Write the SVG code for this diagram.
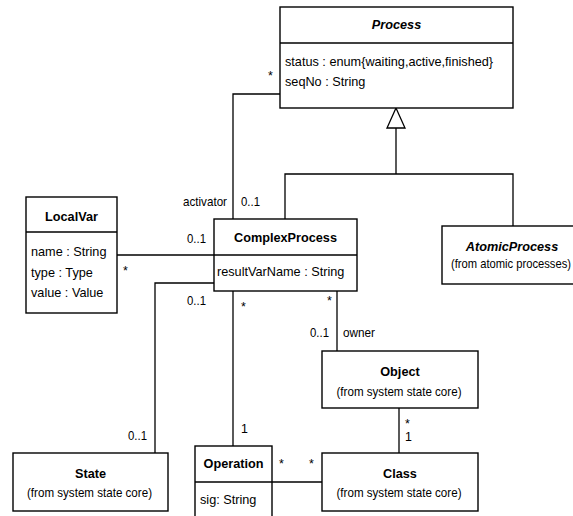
<svg xmlns="http://www.w3.org/2000/svg" width="573" height="516" viewBox="0 0 573 516">
<style>
.box{fill:#fff;stroke:#000;stroke-width:1.4}
.ln{fill:none;stroke:#000;stroke-width:1.3}
text{font-family:"Liberation Sans",Arial,sans-serif;font-size:12.7px;fill:#000}
.t{font-weight:bold;text-anchor:middle}
.i{font-style:italic}
.c{text-anchor:middle;font-size:12.4px}
.s{font-size:12.4px}
</style>
<rect width="573" height="516" fill="#fff"/>
<g id="connectors">
<polyline class="ln" points="280,94 233,94 233,219"/>
<line class="ln" x1="396" y1="128" x2="396" y2="174"/>
<polyline class="ln" points="285,219 285,174 513,174 513,226"/>
<polygon class="ln" points="396,108 387,128 405,128" fill="#fff"/>
<line class="ln" x1="117" y1="255" x2="214" y2="255"/>
<polyline class="ln" points="214,283 155,283 155,453"/>
<line class="ln" x1="233" y1="291" x2="233" y2="446"/>
<line class="ln" x1="337" y1="291" x2="337" y2="351"/>
<line class="ln" x1="399" y1="408" x2="399" y2="453"/>
<line class="ln" x1="272" y1="482" x2="322" y2="482"/>
<text class="s" x="268" y="80">*</text>
<text class="s" x="183" y="206" textLength="44" lengthAdjust="spacingAndGlyphs">activator</text>
<text class="s" x="241" y="206" textLength="19" lengthAdjust="spacingAndGlyphs">0..1</text>
<text class="s" x="187" y="243" textLength="19" lengthAdjust="spacingAndGlyphs">0..1</text>
<text class="s" x="123" y="275">*</text>
<text class="s" x="187" y="305" textLength="19" lengthAdjust="spacingAndGlyphs">0..1</text>
<text class="s" x="241" y="311">*</text>
<text class="s" x="327" y="305">*</text>
<text class="s" x="310" y="337" textLength="19" lengthAdjust="spacingAndGlyphs">0..1</text>
<text class="s" x="343" y="337" textLength="32" lengthAdjust="spacingAndGlyphs">owner</text>
<text class="s" x="128" y="440" textLength="19" lengthAdjust="spacingAndGlyphs">0..1</text>
<text class="s" x="241" y="433">1</text>
<text class="s" x="279" y="468">*</text>
<text class="s" x="309" y="468">*</text>
<text class="s" x="405" y="428">*</text>
<text class="s" x="405" y="441">1</text>
</g>
<g id="Process">
<rect class="box" x="280" y="7" width="233" height="101"/>
<line class="ln" x1="280" y1="43" x2="513" y2="43"/>
<text class="t i" x="396.5" y="29">Process</text>
<text x="285" y="66">status : enum{waiting,active,finished}</text>
<text x="285" y="86">seqNo : String</text>
</g>
<g id="LocalVar">
<rect class="box" x="26" y="197" width="91" height="116"/>
<line class="ln" x1="26" y1="232" x2="117" y2="232"/>
<text class="t" x="71.5" y="221">LocalVar</text>
<text x="31" y="256">name : String</text>
<text x="31" y="277">type : Type</text>
<text x="31" y="297">value : Value</text>
</g>
<g id="ComplexProcess">
<rect class="box" x="214" y="219" width="143" height="72"/>
<line class="ln" x1="214" y1="255" x2="357" y2="255"/>
<text class="t" x="285.5" y="242">ComplexProcess</text>
<text x="217" y="276">resultVarName : String</text>
</g>
<g id="AtomicProcess">
<rect class="box" x="442" y="226" width="140" height="58"/>
<text class="t i" x="512" y="251">AtomicProcess</text>
<text class="c" x="511" y="268" textLength="120" lengthAdjust="spacingAndGlyphs">(from atomic processes)</text>
</g>
<g id="Object">
<rect class="box" x="322" y="351" width="156" height="57"/>
<text class="t" x="400" y="376">Object</text>
<text class="c" x="399" y="396" textLength="125" lengthAdjust="spacingAndGlyphs">(from system state core)</text>
</g>
<g id="State">
<rect class="box" x="13" y="453" width="155" height="58"/>
<text class="t" x="90.5" y="478">State</text>
<text class="c" x="89.5" y="497" textLength="125" lengthAdjust="spacingAndGlyphs">(from system state core)</text>
</g>
<g id="Operation">
<rect class="box" x="195" y="446" width="77" height="80"/>
<line class="ln" x1="195" y1="482" x2="272" y2="482"/>
<text class="t" x="233.5" y="468">Operation</text>
<text x="200" y="504">sig: String</text>
</g>
<g id="Class">
<rect class="box" x="322" y="453" width="156" height="58"/>
<text class="t" x="400" y="478">Class</text>
<text class="c" x="399" y="497" textLength="125" lengthAdjust="spacingAndGlyphs">(from system state core)</text>
</g>
</svg>
